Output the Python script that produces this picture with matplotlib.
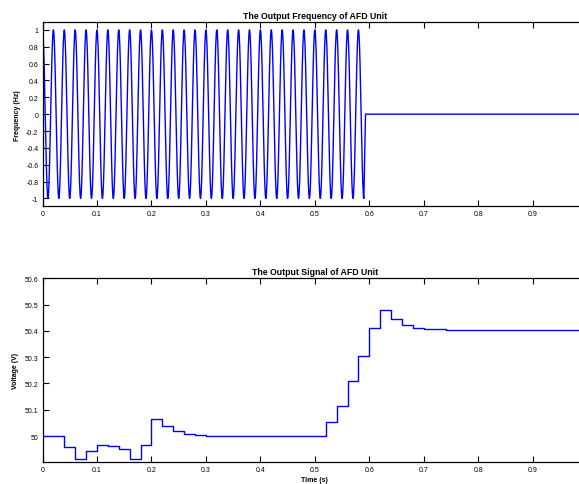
import numpy as np
import matplotlib
matplotlib.use('Agg')
import matplotlib.pyplot as plt
from matplotlib.ticker import FuncFormatter

plt.rcParams['font.family'] = ['Liberation Sans', 'DejaVu Sans']

# top panel: the AFD output is a 50 Hz cosine of unit amplitude that stops at ~0.59 s
wave_freq = 50.0      # Hz
wave_amp = 1.0
wave_last = 0.59      # s, last trough of the wave
wave_stop = 0.593     # s, output is zero from here on
t_end = 1.0

# bottom panel: step output (start time of each step, value held until next step)
step_t = [0.00, 0.04, 0.06, 0.08, 0.10, 0.12, 0.14, 0.16, 0.18, 0.20,
          0.22, 0.24, 0.26, 0.28, 0.30, 0.52, 0.54, 0.56, 0.58, 0.60,
          0.62, 0.64, 0.66, 0.68, 0.70, 0.74, 1.00]
step_v = [50.000, 49.960, 49.911, 49.943, 49.966, 49.963, 49.951, 49.914, 49.966, 50.063,
          50.038, 50.018, 50.009, 50.004, 50.001, 50.053, 50.116, 50.211, 50.306, 50.411,
          50.480, 50.445, 50.424, 50.411, 50.407, 50.404, 50.404]

x_ticks = [0, 0.1, 0.2, 0.3, 0.4, 0.5, 0.6, 0.7, 0.8, 0.9]
top_yticks = [-1, -0.8, -0.6, -0.4, -0.2, 0, 0.2, 0.4, 0.6, 0.8, 1]
bot_yticks = [50, 50.1, 50.2, 50.3, 50.4, 50.5, 50.6]

t_on = np.arange(0, wave_last + 0.00025, 0.0005)
t_wave = np.concatenate([t_on, [wave_stop, t_end]])
f_wave = np.concatenate([wave_amp * np.cos(2 * np.pi * wave_freq * t_on), [0, 0]])

fig = plt.figure(figsize=(5.79, 4.85), dpi=100)
W, H = 579.0, 485.0
ax1 = fig.add_axes([42.5 / W, 1 - 207 / H, 544.7 / W, (207 - 23.3) / H])
ax2 = fig.add_axes([42.5 / W, 1 - 463.3 / H, 544.7 / W, (463.3 - 279.3) / H])

gfmt = FuncFormatter(lambda v, p: '%g' % round(v, 3))

ax1.plot(t_wave, f_wave, color='#0000ff', lw=1.0)
ax1.set_xlim(0, 1)
ax1.set_ylim(-1.09, 1.09)
ax1.set_yticks(top_yticks)
ax1.set_title('The Output Frequency of AFD Unit', fontsize=6.3, fontweight='bold', pad=3)
ax1.set_ylabel('Frequency (Hz)', fontsize=5, fontweight='bold', labelpad=4)

ax2.step(step_t, step_v, where='post', color='#0000ff', lw=1.0)
ax2.set_xlim(0, 1)
ax2.set_ylim(49.9, 50.6)
ax2.set_yticks(bot_yticks)
ax2.set_title('The Output Signal of AFD Unit', fontsize=6.3, fontweight='bold', pad=3)
ax2.set_ylabel('Voltage (V)', fontsize=5, fontweight='bold', labelpad=4)
ax2.set_xlabel('Time (s)', fontsize=5, fontweight='bold', labelpad=2)

for ax in (ax1, ax2):
    ax.set_xticks(x_ticks)
    ax.xaxis.set_major_formatter(gfmt)
    ax.yaxis.set_major_formatter(gfmt)
    ax.tick_params(direction='in', length=4, width=0.8, labelsize=5,
                   top=True, right=True, pad=3)
    for s in ax.spines.values():
        s.set_linewidth(0.9)

fig.savefig('out.png', dpi=100)
